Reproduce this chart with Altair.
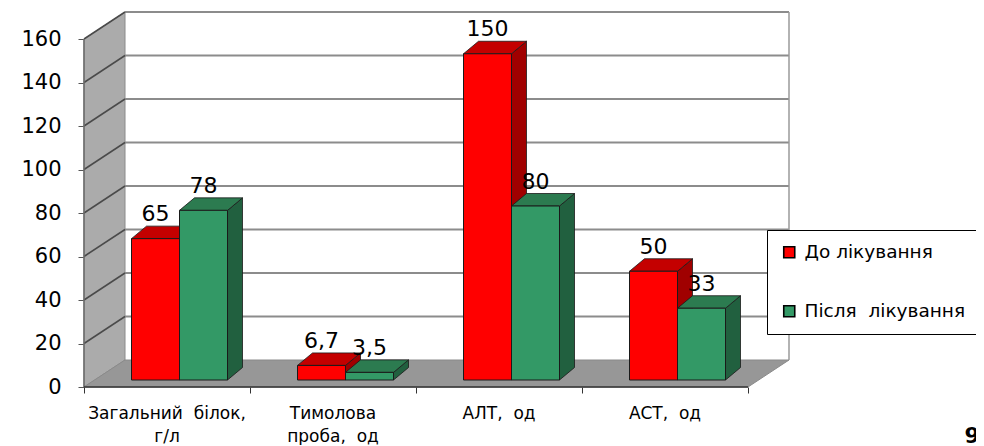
import altair as alt
import pandas as pd

NB = "\u00a0"
# ---------------- data ----------------
categories = ["Загальний" + NB + " білок,\nг/л", "Тимолова\nпроба," + NB + " од",
              "АЛТ," + NB + " од", "АСТ," + NB + " од"]
series = ["До лікування", "Після" + NB + " лікування"]
before = [65, 6.7, 150, 50]
after = [78, 3.5, 80, 33]
before_labels = ["65", "6,7", "150", "50"]
after_labels = ["78", "3,5", "80", "33"]
y_ticks = [0, 20, 40, 60, 80, 100, 120, 140, 160]

front_colors = ["#ff0000", "#339966"]
top_colors = ["#c40000", "#2c7b50"]
side_colors = ["#a00000", "#21603f"]

FONT = "DejaVu Sans"

# ---------------- layout (scale units) ----------------
PX_U = 166.0      # px per category unit
PX_V = 2.175      # px per value unit
W, H = 892, 379
XMAX = W / PX_U
YMAX = H / PX_V
WDX = 41 / PX_U   # wall depth
WDY = 27 / PX_V
BASE = 7 / PX_V   # bar base (mid depth)
BOFF = 47.5 / PX_U
BW = 48 / PX_U
BDX = 15 / PX_U   # bar depth
BDY = 12.5 / PX_V
NC = len(categories)

# ---------------- tables ----------------
fronts, sides, tops, labels = [], [], [], []
for i in range(NC):
    for s, (vals, labs) in enumerate([(before, before_labels), (after, after_labels)]):
        v = vals[i]
        x1 = i + BOFF + s * BW
        x2 = x1 + BW
        y0 = BASE
        y1 = BASE + v
        bid = f"{i}-{s}"
        fronts.append(dict(series=series[s], x1=x1, x2=x2, y0=y0, y1=y1))
        sides.append(dict(bid=bid, c=side_colors[s], x=x2, yt=y1, yb=y0))
        sides.append(dict(bid=bid, c=side_colors[s], x=x2 + BDX, yt=y1 + BDY, yb=y0 + BDY))
        tops.append(dict(bid=bid, c=top_colors[s], y=y1, xa=x1, xb=x2))
        tops.append(dict(bid=bid, c=top_colors[s], y=y1 + BDY, xa=x1 + BDX, xb=x2 + BDX))
        labels.append(dict(x=(x1 + x2) / 2, y=y1 + BDY, t=labs[i]))

df_front = pd.DataFrame(fronts)
df_side = pd.DataFrame(sides)
df_top = pd.DataFrame(tops)
df_lab = pd.DataFrame(labels)

xs = alt.Scale(domain=[0, XMAX], nice=False, zero=False)
ys = alt.Scale(domain=[0, YMAX], nice=False, zero=False)

# left wall
df_lwall = pd.DataFrame([dict(x=0, yt=y_ticks[-1], yb=0), dict(x=WDX, yt=y_ticks[-1] + WDY, yb=WDY)])
lwall = alt.Chart(df_lwall).mark_area(fill="#ababab", stroke="#8a8a8a", strokeWidth=1).encode(
    x=alt.X("x:Q", scale=xs, axis=alt.Axis(values=list(range(NC + 1)), labels=False, domain=False,
                                          grid=False, tickSize=6, tickColor="#333333", title=None)),
    y=alt.Y("yt:Q", scale=ys, axis=alt.Axis(values=y_ticks, domain=False, grid=False, tickSize=6,
                                           tickColor="#555555", labelFontSize=21, labelFont=FONT,
                                           labelColor="#000000", labelPadding=17, title=None)),
    y2="yb:Q",
)

# floor
df_floor = pd.DataFrame([dict(y=0, xa=0, xb=NC), dict(y=WDY, xa=WDX, xb=NC + WDX)])
floor = alt.Chart(df_floor).mark_area(orient="horizontal", fill="#979797", stroke="#8a8a8a",
                                      strokeWidth=1).encode(
    y=alt.Y("y:Q", scale=ys), x=alt.X("xa:Q", scale=xs), x2="xb:Q")

# back gridlines
df_grid = pd.DataFrame([dict(g=g) for g in y_ticks[1:]])
grid_back = alt.Chart(df_grid).transform_calculate(
    gy=f"datum.g + {WDY}", xa=f"{WDX}", xb=f"{NC + WDX}"
).mark_rule(color="#8c8c8c", strokeWidth=2).encode(
    x=alt.X("xa:Q", scale=xs), x2="xb:Q", y=alt.Y("gy:Q", scale=ys))
grid_side = alt.Chart(df_grid).transform_calculate(
    gy=f"datum.g + {WDY}", xa="0", xb=f"{WDX}"
).mark_rule(color="#4a4a4a", strokeWidth=1.5).encode(
    x=alt.X("xa:Q", scale=xs), x2="xb:Q", y=alt.Y("g:Q", scale=ys), y2="gy:Q")

# back wall right edge and left front edge
df_edges = pd.DataFrame([
    dict(x=NC + WDX, ya=WDY, yb=y_ticks[-1] + WDY, c="#9a9a9a"),
    dict(x=0, ya=0, yb=y_ticks[-1], c="#6a6a6a"),
])
edges = alt.Chart(df_edges).mark_rule(strokeWidth=1.5).encode(
    x=alt.X("x:Q", scale=xs), y=alt.Y("ya:Q", scale=ys), y2="yb:Q",
    color=alt.Color("c:N", scale=None))

# floor front edge
df_fedge = pd.DataFrame([dict(xa=0, xb=NC, y=0)])
fedge = alt.Chart(df_fedge).mark_rule(color="#333333", strokeWidth=1.5).encode(
    x=alt.X("xa:Q", scale=xs), x2="xb:Q", y=alt.Y("y:Q", scale=ys))

# bars
side = alt.Chart(df_side).mark_area(stroke="#1a1a1a", strokeWidth=0.8).encode(
    x=alt.X("x:Q", scale=xs), y=alt.Y("yt:Q", scale=ys), y2="yb:Q",
    fill=alt.Fill("c:N", scale=None), detail="bid:N")
top = alt.Chart(df_top).mark_area(orient="horizontal", stroke="#1a1a1a", strokeWidth=0.8).encode(
    y=alt.Y("y:Q", scale=ys), x=alt.X("xa:Q", scale=xs), x2="xb:Q",
    fill=alt.Fill("c:N", scale=None), detail="bid:N")
front = alt.Chart(df_front).mark_rect(stroke="#1a1a1a", strokeWidth=1).encode(
    x=alt.X("x1:Q", scale=xs), x2="x2:Q", y=alt.Y("y0:Q", scale=ys), y2="y1:Q",
    color=alt.Color("series:N", scale=alt.Scale(domain=series, range=front_colors),
                    legend=alt.Legend(title=None, orient="none", legendX=683, legendY=222,
                                      strokeColor="#000000", fillColor="#ffffff", padding=13,
                                      symbolType="square", symbolSize=121,
                                      symbolStrokeColor="#000000", symbolStrokeWidth=1.6,
                                      labelFontSize=18.5, labelFont=FONT, labelColor="#000000",
                                      labelOffset=6, rowPadding=40, labelLimit=400)))

vlabels = alt.Chart(df_lab).mark_text(font=FONT, fontSize=22, baseline="alphabetic", dy=-5,
                                      color="#000000").encode(
    x=alt.X("x:Q", scale=xs), y=alt.Y("y:Q", scale=ys), text="t:N")

df_cat = pd.DataFrame([dict(x=i + 0.5, y=-12.5, t=c) for i, c in enumerate(categories)])
catlabels = alt.Chart(df_cat).mark_text(font=FONT, fontSize=17, baseline="middle", lineBreak="\n",
                                        lineHeight=23, color="#000000").encode(
    x=alt.X("x:Q", scale=xs), y=alt.Y("y:Q", scale=ys), text="t:N")

df_page = pd.DataFrame([dict(x=5.35, y=-22.5, t="9")])
pagenum = alt.Chart(df_page).mark_text(font=FONT, fontSize=22, fontWeight="bold", baseline="middle",
                                       color="#000000").encode(
    x=alt.X("x:Q", scale=xs), y=alt.Y("y:Q", scale=ys), text="t:N")

chart = alt.layer(lwall, floor, grid_back, grid_side, edges, fedge, side, top, front, vlabels,
                  catlabels, pagenum).properties(
    width=W, height=H,
    background="#ffffff",
    autosize=alt.AutoSizeParams(type="none"),
    padding={"left": 76, "top": 0, "right": 0, "bottom": 58},
).configure_view(stroke="transparent", strokeWidth=0).configure_axis(domain=False, grid=False)

chart.save("out.html", embed_options={"renderer": "svg", "actions": False})
